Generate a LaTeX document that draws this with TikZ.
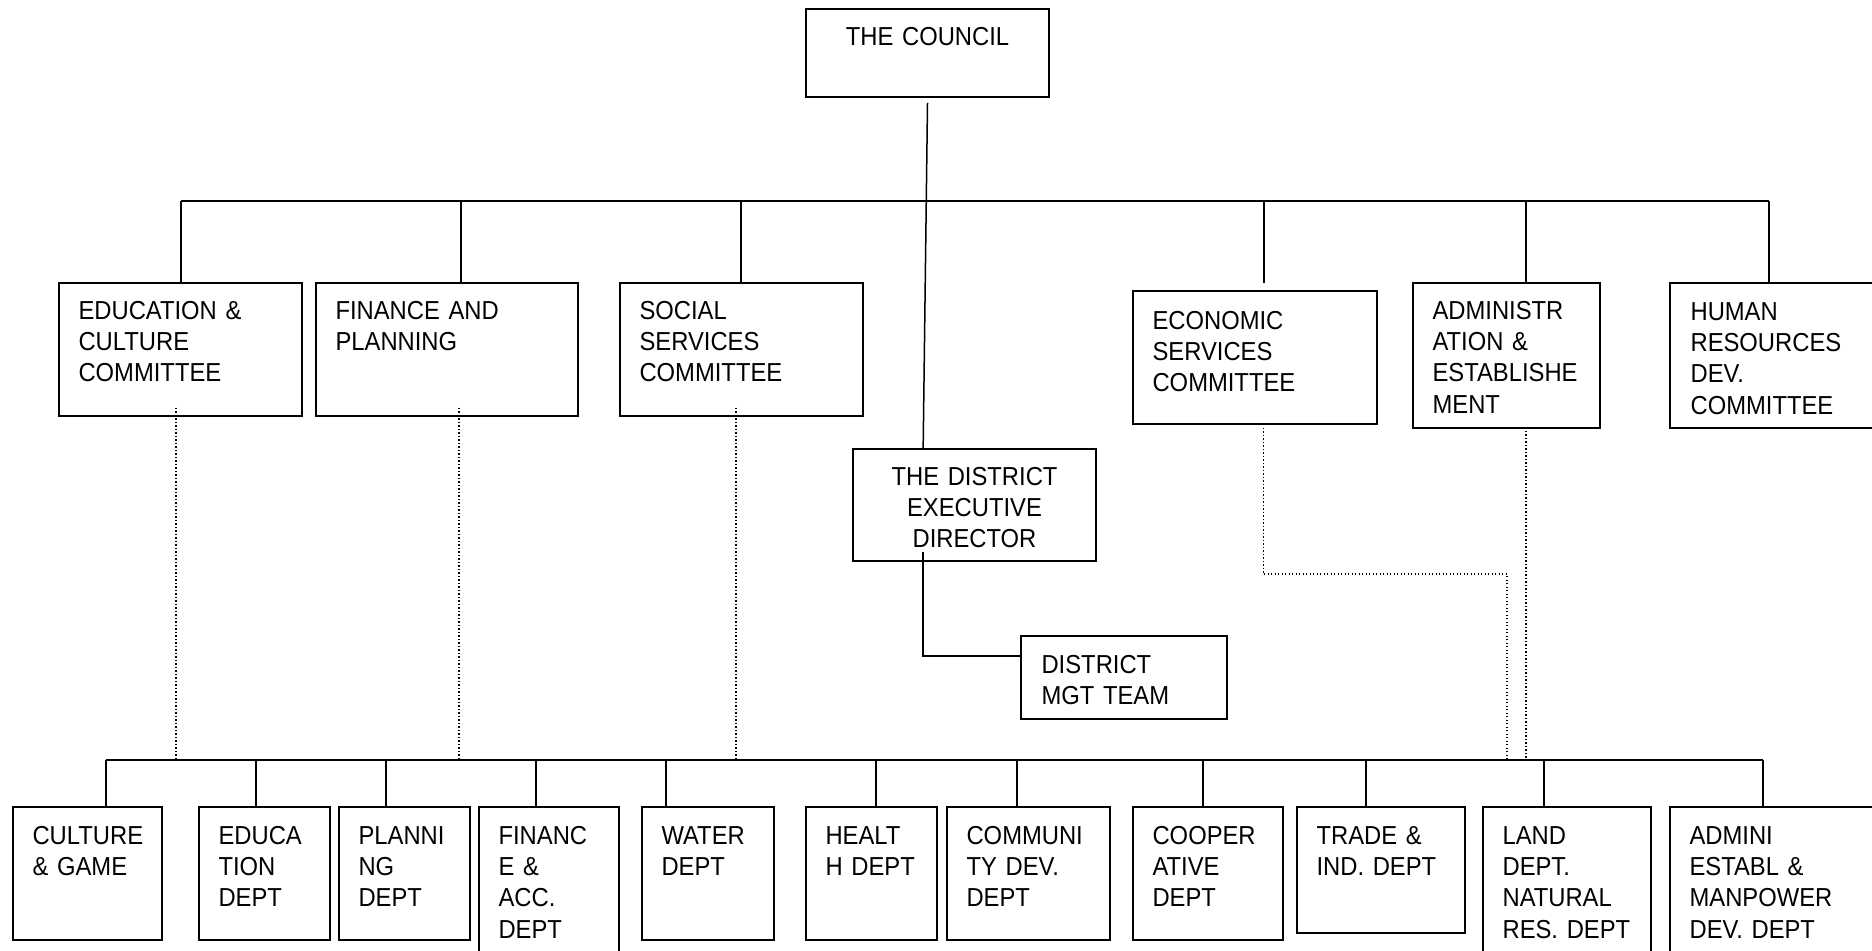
\documentclass[tikz,border=0pt]{standalone}
\usepackage{fontspec}
\setmainfont[FakeStretch=0.915]{Liberation Sans}
\usetikzlibrary{calc,fit}
\newcommand\orgfont{\fontsize{13pt}{15.65pt}\selectfont}
\begin{document}
\begin{tikzpicture}[x=0.5pt,y=-0.5pt,
  orgbox/.style={draw, line width=0.85pt, inner sep=0pt, rectangle},
  boxlabel/.style={anchor=base west, inner sep=0pt, text width=140pt, align=left, font=\orgfont},
  ctrlabel/.style={anchor=base, inner sep=0pt, text width=140pt, align=center, font=\orgfont},
  link/.style={line width=0.75pt},
  dotlink/.style={line width=0.65pt, dash pattern=on 0.65pt off 1.1pt},
]
\clip (0,0) rectangle (1872,950);

% ---- boxes ----
\node[orgbox, fit={(806,9) (1049,97)}] (council) {};
\node[orgbox, fit={(59,283) (302,416)}] (edu) {};
\node[orgbox, fit={(316,283) (578,416)}] (fin) {};
\node[orgbox, fit={(620,283) (863,416)}] (soc) {};
\node[orgbox, fit={(1133,291) (1377,424)}] (eco) {};
\node[orgbox, fit={(1413,283) (1600,428)}] (adm) {};
\node[orgbox, fit={(1670,283) (1885,428)}] (hr) {};
\node[orgbox, fit={(853,449) (1096,561)}] (ded) {};
\node[orgbox, fit={(1021,636) (1227,719)}] (dmt) {};
\node[orgbox, fit={(13,807) (162,940)}] (culture) {};
\node[orgbox, fit={(199,807) (330,940)}] (educ) {};
\node[orgbox, fit={(339,807) (470,940)}] (plan) {};
\node[orgbox, fit={(479,807) (619,965)}] (finacc) {};
\node[orgbox, fit={(642,807) (774,940)}] (water) {};
\node[orgbox, fit={(806,807) (937,940)}] (health) {};
\node[orgbox, fit={(947,807) (1110,940)}] (comm) {};
\node[orgbox, fit={(1133,807) (1283,940)}] (coop) {};
\node[orgbox, fit={(1297,807) (1465,933)}] (trade) {};
\node[orgbox, fit={(1483,807) (1651,965)}] (land) {};
\node[orgbox, fit={(1670,807) (1885,965)}] (admest) {};

% ---- texts ----
\node[ctrlabel] (council-t) at ($(council.north)+(0,37)$) {THE COUNCIL};
\node[ctrlabel] (ded-t) at ($(ded.north)+(0,37)$) {THE DISTRICT\\EXECUTIVE\\DIRECTOR};
\node[boxlabel] (edu-t) at ($(edu.north west)+(20,37)$) {EDUCATION \&\\CULTURE\\COMMITTEE};
\node[boxlabel] (fin-t) at ($(fin.north west)+(20,37)$) {FINANCE AND\\PLANNING};
\node[boxlabel] (soc-t) at ($(soc.north west)+(20,37)$) {SOCIAL\\SERVICES\\COMMITTEE};
\node[boxlabel] (eco-t) at ($(eco.north west)+(20,39)$) {ECONOMIC\\SERVICES\\COMMITTEE};
\node[boxlabel] (adm-t) at ($(adm.north west)+(20,37)$) {ADMINISTR\\ATION \&\\ESTABLISHE\\MENT};
\node[boxlabel] (hr-t) at ($(hr.north west)+(21,38)$) {HUMAN\\RESOURCES\\DEV.\\COMMITTEE};
\node[boxlabel] (dmt-t) at ($(dmt.north west)+(21,38)$) {DISTRICT\\MGT TEAM};
\node[boxlabel] (culture-t) at ($(culture.north west)+(20,38)$) {CULTURE\\\& GAME};
\node[boxlabel] (educ-t) at ($(educ.north west)+(20,38)$) {EDUCA\\TION\\DEPT};
\node[boxlabel] (plan-t) at ($(plan.north west)+(20,38)$) {PLANNI\\NG\\DEPT};
\node[boxlabel] (finacc-t) at ($(finacc.north west)+(20,38)$) {FINANC\\E \&\\ACC.\\DEPT};
\node[boxlabel] (water-t) at ($(water.north west)+(20,38)$) {WATER\\DEPT};
\node[boxlabel] (health-t) at ($(health.north west)+(20,38)$) {HEALT\\H DEPT};
\node[boxlabel] (comm-t) at ($(comm.north west)+(20,38)$) {COMMUNI\\TY DEV.\\DEPT};
\node[boxlabel] (coop-t) at ($(coop.north west)+(20,38)$) {COOPER\\ATIVE\\DEPT};
\node[boxlabel] (trade-t) at ($(trade.north west)+(20,38)$) {TRADE \&\\IND. DEPT};
\node[boxlabel] (land-t) at ($(land.north west)+(20,38)$) {LAND\\DEPT.\\NATURAL\\RES. DEPT};
\node[boxlabel] (admest-t) at ($(admest.north west)+(20,38)$) {ADMINI\\ESTABL \&\\MANPOWER\\DEV. DEPT};

% ---- committee bus ----
\coordinate (tb1) at (181,201);
\coordinate (tb2) at (461,201);
\coordinate (tb3) at (741,201);
\coordinate (tb4) at (1264,201);
\coordinate (tb5) at (1526,201);
\coordinate (tb6) at (1769,201);
\draw[link] (tb1) -- (tb6);
\foreach \c/\n in {tb1/edu, tb2/fin, tb3/soc, tb5/adm, tb6/hr}
  \draw[link] (\c) -- (\c |- \n.north);
\draw[link] (tb4) -- ($(tb4 |- eco.north)+(0,-7)$);

% ---- council to executive director to management team ----
\draw[link] ($(council.south)+(0,5)$) -- ($(ded.north west)+(71,0)$);
\draw[link] ($(ded.north west)+(71,104)$) |- ($(dmt.north west)+(0,21)$);

% ---- department bus ----
\coordinate (bb1) at (106,760);
\coordinate (bb2) at (256,760);
\coordinate (bb3) at (386,760);
\coordinate (bb4) at (536,760);
\coordinate (bb5) at (666,760);
\coordinate (bb6) at (876,760);
\coordinate (bb7) at (1017,760);
\coordinate (bb8) at (1203,760);
\coordinate (bb9) at (1366,760);
\coordinate (bb10) at (1544,760);
\coordinate (bb11) at (1763,760);
\draw[link] (bb1) -- (bb11);
\foreach \c/\n in {bb1/culture, bb2/educ, bb3/plan, bb4/finacc, bb5/water, bb6/health,
                   bb7/comm, bb8/coop, bb9/trade, bb10/land, bb11/admest}
  \draw[link] (\c) -- (\c |- \n.north);

% ---- dotted links from committees to the department bus ----
\coordinate (d1) at (176,760);
\coordinate (d2) at (459,760);
\coordinate (d3) at (736,760);
\coordinate (d4) at (1507,760);
\coordinate (d5) at (1526,760);
\draw[dotlink] ($(d1 |- edu.south)+(0,-9)$) -- (d1);
\draw[dotlink] ($(d2 |- fin.south)+(0,-9)$) -- (d2);
\draw[dotlink] ($(d3 |- soc.south)+(0,-9)$) -- (d3);
\draw[dotlink] ($(eco.south west)+(131,3)$) |- ($(d4)+(0,-186)$) -- (d4);
\draw[dotlink] ($(d5 |- adm.south)+(0,2)$) -- (d5);
\end{tikzpicture}
\end{document}
